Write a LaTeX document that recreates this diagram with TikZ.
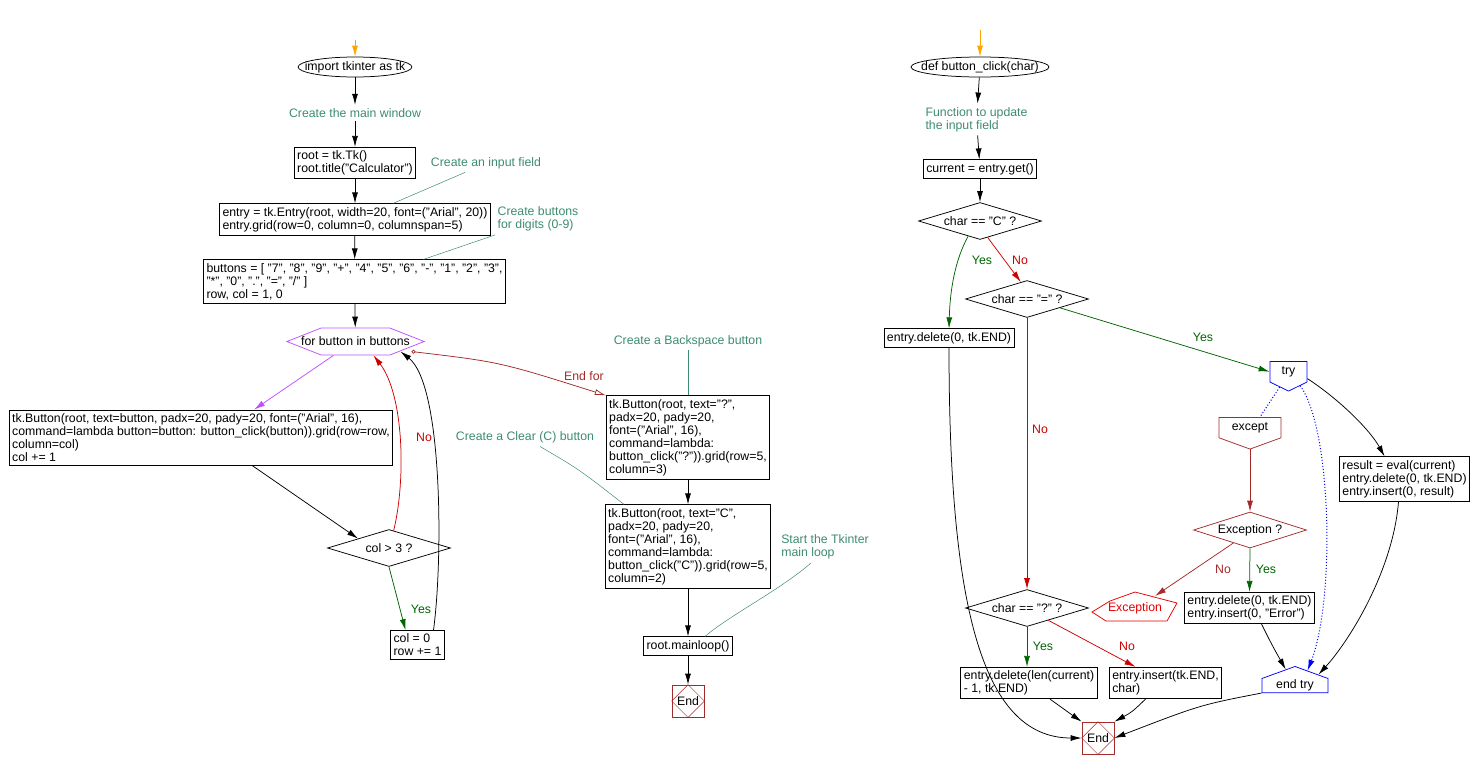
\documentclass[tikz,border=0pt]{standalone}
\usepackage{fontspec}
\setmainfont{Liberation Sans}
\usetikzlibrary{positioning,arrows.meta,shapes.geometric,shapes.symbols}

\definecolor{NoteGreen}{RGB}{61,140,110}
\definecolor{StartOrange}{RGB}{255,165,0}
\definecolor{YesGreen}{RGB}{0,100,0}
\definecolor{NoRed}{RGB}{204,0,0}
\definecolor{EndRed}{RGB}{165,42,42}
\definecolor{ExcRed}{RGB}{230,0,0}
\definecolor{LoopViolet}{RGB}{190,80,255}

\begin{document}
\begin{tikzpicture}[x=1pt, y=-1pt,
                font=\fontsize{12.3}{13}\selectfont,
                line width=0.75pt,
                >={Latex[length=11pt,width=6pt]},
                codenode/.style={rectangle, draw=black, align=left, inner xsep=3pt, inner ysep=3.5pt, minimum height=18pt},
                ovalnode/.style={ellipse, draw=black, inner xsep=-10pt, inner ysep=0pt, minimum height=20pt},
                decisionnode/.style={diamond, draw=black, aspect=3.3, inner sep=0pt, minimum width=123pt, minimum height=37pt},
                loopnode/.style={signal, signal to=east and west, signal pointer angle=43, draw=LoopViolet, inner xsep=-20pt, inner ysep=0pt, minimum height=27pt},
                trynode/.style={signal, signal from=nowhere, inner sep=0pt},
                notenode/.style={text=NoteGreen, align=left},
                notelink/.style={draw=NoteGreen, line width=0.5pt},
                endnode/.style={rectangle, draw=EndRed, minimum size=32pt, inner sep=0pt},
            ]
            \useasboundingbox (0,0) rectangle (1474,769);

            % left chart: main program
            \coordinate (start1) at (355,40);
            \node[ovalnode]     (imp)     at (355,67)      {import tkinter as tk};
            \node[notenode]     (cMain)   at (355,113)     {Create the main window};
            \node[codenode]     (root)    at (355,163)     {root = tk.Tk()\\root.title("Calculator")};
            \node[notenode]     (cInput)  at (486,163)     {Create an input field};
            \node[codenode]     (entry)   at (355,219.5)   {entry = tk.Entry(root, width=20, font=("Arial", 20))\\entry.grid(row=0, column=0, columnspan=5)};
            \node[notenode]     (cDigits) at (538,219)     {Create buttons\\for digits (0-9)};
            \node[codenode]     (btns)    at (354.5,281.5) {buttons = [ "7", "8", "9", "+", "4", "5", "6", "-", "1", "2", "3",\\"*", "0", ".", "=", "/" ]\\row, col = 1, 0};
            \node[loopnode]     (loop)    at (355.5,341.5) {for button in buttons};
            \node[codenode]     (body)    at (201,437.5)   {tk.Button(root, text=button, padx=20, pady=20, font=("Arial", 16),\\command=lambda button=button: button\_click(button)).grid(row=row,\\column=col)\\col += 1};
            \node[decisionnode] (check)   at (389,548)     {col > 3 ?};
            \node[codenode]     (reset)   at (417.5,645)   {col = 0\\row += 1};
            \node[notenode]     (cBsp)    at (688,341)     {Create a Backspace button};
            \node[codenode]     (bsp)     at (688,437.5)   {tk.Button(root, text="?",\\padx=20, pady=20,\\font=("Arial", 16),\\command=lambda:\\button\_click("?")).grid(row=5,\\column=3)};
            \node[notenode]     (cClear)  at (525,437)     {Create a Clear (C) button};
            \node[codenode]     (clr)     at (688,546.5)   {tk.Button(root, text="C",\\padx=20, pady=20,\\font=("Arial", 16),\\command=lambda:\\button\_click("C")).grid(row=5,\\column=2)};
            \node[notenode]     (cLoop)   at (825,547)     {Start the Tkinter\\main loop};
            \node[codenode]     (mloop)   at (688,646)     {root.mainloop()};
            \node[endnode]      (end1)    at (688,701)     {End};

            \node[text=NoRed]      (lNo1)    at (424,437) {No};
            \node[text=YesGreen]   (lYes1)   at (421,609) {Yes};
            \node[text=EndRed]     (lEndFor) at (584,376) {End for};

            \draw[->, StartOrange] (start1) -- (imp);
            \draw[->] (imp) -- (cMain);
            \draw[->] (cMain) -- (root);
            \draw[->] (root) -- (entry);
            \draw[->] (entry) -- (btns);
            \draw[->] (btns) -- (loop);
            \draw[->, LoopViolet] ([xshift=-22pt]loop.south) -- ([xshift=53pt]body.north);
            \draw[->] ([xshift=51pt]body.south) -- (check.north west);
            \draw[->, NoRed] (check.75) .. controls (406,480) and (404,395) .. ([xshift=18pt]loop.south);
            \draw[->, YesGreen] (check.south) -- ([xshift=-12pt]reset.north);
            \draw[->] ([xshift=16pt]reset.north) .. controls (443,560) and (443,385) .. ([shift={(45,10)}]loop.center);
            \draw[{Circle[open,length=4pt]}-{Latex[open,length=11pt,width=6pt]}, EndRed] ([shift={(56,10)}]loop.center) .. controls (500,362) .. (bsp.north west);
            \draw[->] (bsp) -- (clr);
            \draw[->] (clr) -- (mloop);
            \draw[->] (mloop) -- (end1);
            \draw[EndRed, line width=0.5pt] (end1.north) -- (end1.east) -- (end1.south) -- (end1.west) -- cycle;

            \draw[notelink] ([xshift=-21pt]cInput.south) -- ([xshift=38pt]entry.north);
            \draw[notelink] ([xshift=-43pt]cDigits.south) -- ([xshift=69pt]btns.north);
            \draw[notelink] (cBsp) -- (bsp);
            \draw[notelink] ([xshift=15pt]cClear.south) .. controls (580,470) .. ([xshift=-64pt]clr.north);
            \draw[notelink] ([xshift=-14pt]cLoop.south) .. controls (780,590) and (730,615) .. ([xshift=17pt]mloop.north);

            % right chart: button_click
            \coordinate (start2) at (980,30);
            \node[ovalnode]     (def)     at (980,67)      {def button\_click(char)};
            \node[notenode]     (cFunc)   at (976.5,119.5) {Function to update\\the input field};
            \node[codenode]     (cur)     at (980,169)     {current = entry.get()};
            \node[decisionnode] (isC)     at (980,221)     {char == "C" ?};
            \node[decisionnode] (isEq)    at (1027,299)    {char == "=" ?};
            \node[codenode]     (delAll)  at (949,338)     {entry.delete(0, tk.END)};
            \node[decisionnode] (isQ)     at (1027,608)    {char == "?" ?};
            \node[codenode]     (delBack) at (1029,683)    {entry.delete(len(current)\\- 1, tk.END)};
            \node[codenode]     (insEnd)  at (1165.5,683)  {entry.insert(tk.END,\\char)};
            \node[endnode]      (end2)    at (1098,738)    {End};
            \node[trynode, signal to=south, signal pointer angle=128, draw=blue, minimum width=37pt, minimum height=24pt, anchor=north] (try) at (1288.5,361) {try};
            \node[trynode, signal to=south, signal pointer angle=140, draw=EndRed, minimum width=62pt, minimum height=27pt, anchor=north] (except) at (1250,417) {except};
            \node[decisionnode, draw=EndRed, minimum width=113pt, minimum height=36pt] (excDia) at (1250,530) {Exception ?};
            \node[text=ExcRed]  (exc)     at (1135,608)    {Exception};
            \node[codenode]     (errBox)  at (1249.5,608)  {entry.delete(0, tk.END)\\entry.insert(0, "Error")};
            \node[codenode]     (resBox)  at (1404.5,479)  {result = eval(current)\\entry.delete(0, tk.END)\\entry.insert(0, result)};
            \node[trynode, signal to=north, signal pointer angle=140, draw=blue, minimum width=66pt, minimum height=21pt, anchor=south] (endtry) at (1295,693) {end try};

            \node[text=YesGreen] (lYes2) at (982,260)  {Yes};
            \node[text=NoRed]    (lNo2)  at (1020,260) {No};
            \node[text=YesGreen] (lYes3) at (1203,337) {Yes};
            \node[text=NoRed]    (lNo3)  at (1040,429) {No};
            \node[text=YesGreen] (lYes4) at (1043,646) {Yes};
            \node[text=NoRed]    (lNo4)  at (1127,646) {No};
            \node[text=EndRed]   (lNo5)  at (1223,569) {No};
            \node[text=YesGreen] (lYes5) at (1266,569) {Yes};

            \draw[ExcRed] ([shift={(-43,4)}]exc.center) -- ([shift={(-25,-7)}]exc.center) -- ([shift={(0,-16)}]exc.center)
                -- ([shift={(42,-5)}]exc.center) -- ([shift={(32,13)}]exc.center) -- ([shift={(-29,13)}]exc.center) -- cycle;

            \draw[->, StartOrange] (start2) -- (def);
            \draw[->] (def) -- (cFunc);
            \draw[->] (cFunc) -- (cur);
            \draw[->] (cur) -- (isC);
            \draw[->, YesGreen] (isC.-128) .. controls (955,260) and (950,290) .. (delAll.north);
            \draw[->, NoRed] (isC.-65) -- (isEq.110);
            \draw[->, YesGreen] (isEq.-15) -- (try.west);
            \draw[->, NoRed] (isEq.south) -- (isQ.north);
            \draw[->, YesGreen] (isQ.south) -- (isQ.south |- delBack.north);
            \draw[->, NoRed] (isQ.-30) -- ([xshift=-30pt]insEnd.north);
            \draw[->] (delAll.south) .. controls (949,600) and (980,738) .. (end2.west);
            \draw[->] ([xshift=21pt]delBack.south) .. controls (1062,708) .. (end2.north west);
            \draw[->] ([xshift=-20pt]insEnd.south) .. controls (1132,712) .. (end2.north east);
            \draw[EndRed, line width=0.5pt] (end2.north) -- (end2.east) -- (end2.south) -- (end2.west) -- cycle;

            \draw[blue, dotted, line width=1pt] (try.-120) -- ([xshift=10pt]except.north);
            \draw[->, blue, dotted, line width=1pt] (try.-50) .. controls (1332,430) and (1335,600) .. (endtry.50);
            \draw[->] (try.-20) .. controls (1340,400) and (1370,430) .. ([xshift=-20pt]resBox.north);
            \draw[->, EndRed] (except.south) -- (excDia.north);
            \draw[->, EndRed] (excDia.-142) -- ([shift={(20,-12)}]exc.center);
            \draw[->, YesGreen] (excDia.south) -- (errBox.north);
            \draw[->] ([xshift=12pt]errBox.south) .. controls (1272,645) .. (endtry.120);
            \draw[->] ([xshift=-6pt]resBox.south) .. controls (1393,570) and (1350,640) .. (endtry.25);
            \draw[->] (endtry.south west) .. controls (1200,705) .. (end2.east);
        \end{tikzpicture}
\end{document}
